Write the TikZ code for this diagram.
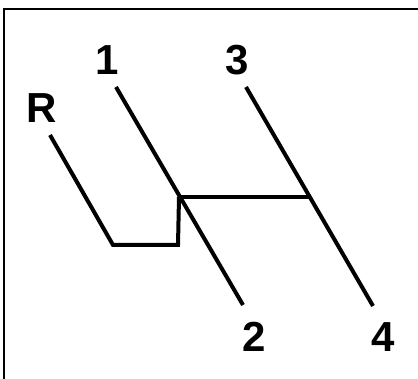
\documentclass[tikz,border=0pt]{standalone}
\usepackage{fontspec}
\setmainfont{Liberation Sans}
\usetikzlibrary{positioning}

\begin{document}
\begin{tikzpicture}[
    x=1pt, y=-1pt,
    frame/.style={draw, line width=2.6pt},
    gate/.style={draw, line width=4pt, line join=miter},
    gear/.style={font=\fontsize{42}{42}\selectfont\bfseries, inner sep=0pt},
]
\useasboundingbox (0,0) rectangle (418,379);
\draw[frame] (4,379) |- (418,9);

% shift pattern
\coordinate (rtop) at (50,135);
\coordinate (rbend) at (113,245);
\coordinate (rcorner) at (178,245);
\coordinate (junc) at (179,197);
\coordinate (onetop) at (116,87);
\coordinate (twobot) at (243,305);
\coordinate (threetop) at (246,87);
\coordinate (fourbot) at (373,306);
\coordinate (rjunc) at (309,197);

\path[gate] (rtop) -- (rbend) -- (rcorner) -- (junc);
\path[gate] (onetop) -- (twobot);
\path[gate] (threetop) -- (fourbot);
\path[gate] (junc) -- (rjunc);

\node[gear] (lR) at (42,108) {R};
\node[gear] (l1) at (107,60) {1};
\node[gear] (l3) at (237,60) {3};
\node[gear] (l2) at (254,337) {2};
\node[gear] (l4) at (383,337) {4};
\end{tikzpicture}
\end{document}
